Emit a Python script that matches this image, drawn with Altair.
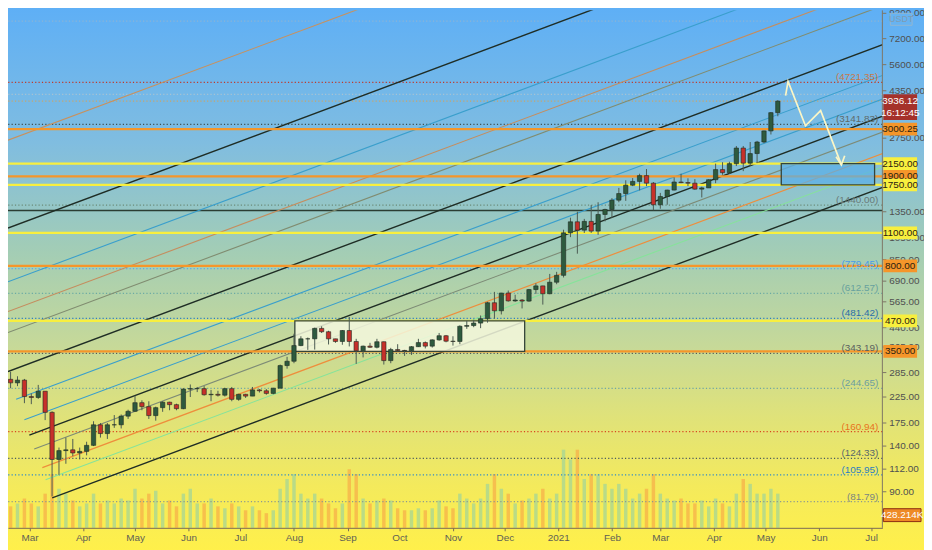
import altair as alt
import pandas as pd

# ---------------- layout ----------------
W, H = 882, 522
PAD_R, PAD_B = 42, 20
YMIN, YMAX = 63.5, 9468.0
VOL_MAX_K = 17490.0
FONT = "Liberation Sans Narrow, Liberation Sans, Arial, sans-serif"

# ---------------- candle data (4-day candles, ETH/USDT) ----------------
first_period = "2020-02-17"
first_open = 267.0
closes = [258, 265, 226, 224, 238, 194, 123, 134, 135, 131,
          133, 141, 172, 158, 172, 172, 187, 196, 213, 205,
          188, 203, 214, 209, 201, 243, 244, 244, 230, 231,
          229, 244, 220, 231, 227, 241, 239, 233, 245, 305,
          318, 370, 395, 395, 437, 423, 395, 385, 428, 385,
          352, 368, 364, 384, 320, 356, 353, 352, 366, 381,
          368, 391, 407, 386, 385, 446, 449, 460, 480, 560,
          518, 615, 570, 575, 569, 636, 659, 611, 683, 730,
          1101, 1225, 1130, 1230, 1120, 1315, 1380, 1510, 1610, 1745,
          1810, 1915, 1780, 1445, 1565, 1665, 1800, 1790, 1780, 1680,
          1700, 1840, 2030, 1970, 2150, 2500, 2160, 2370, 2650, 2950,
          3520, 3936.12]
highs = [287, 275, 268, 233, 253, 238, 196, 138, 152, 150,
         138, 146, 178, 175, 175, 189, 190, 199, 228, 218,
         216, 205, 216, 215, 211, 245, 254, 248, 250, 241,
         239, 246, 248, 232, 232, 248, 243, 243, 246, 308,
         332, 415, 405, 400, 440, 446, 427, 395, 430, 488,
         395, 370, 380, 395, 385, 362, 375, 355, 368, 395,
         385, 393, 418, 410, 405, 450, 470, 475, 495, 565,
         622, 616, 630, 605, 580, 640, 676, 660, 740, 755,
         1135, 1275, 1350, 1260, 1440, 1480, 1390, 1540, 1700, 1830,
         1870, 1950, 2040, 1800, 1620, 1670, 1880, 1950, 1865, 1850,
         1720, 1850, 2150, 2180, 2190, 2550, 2550, 2650, 2680, 2960,
         3540, 3970]
lows = [245, 250, 212, 210, 221, 180, 86, 106, 118, 127,
        123, 128, 140, 152, 150, 167, 166, 182, 195, 198,
        182, 179, 195, 198, 198, 200, 225, 236, 228, 216,
        226, 226, 216, 217, 223, 227, 235, 230, 231, 245,
        296, 312, 368, 355, 356, 418, 374, 380, 373, 367,
        310, 330, 362, 360, 308, 312, 350, 335, 338, 365,
        360, 363, 388, 382, 370, 375, 435, 442, 438, 462,
        480, 500, 566, 565, 530, 565, 610, 550, 608, 670,
        715, 1056, 900, 1100, 1100, 1080, 1230, 1270, 1480, 1500,
        1730, 1660, 1730, 1370, 1390, 1445, 1660, 1780, 1730, 1670,
        1550, 1700, 1780, 1930, 1950, 2100, 2000, 2100, 2160, 2620,
        2850, 3400]
volume_k = [726, 825, 990, 825, 726, 1155, 1815, 1320, 1155, 924,
            726, 825, 1155, 825, 924, 825, 990, 924, 1320, 990,
            1155, 1254, 825, 924, 726, 1155, 1320, 825, 825, 990,
            726, 660, 825, 726, 594, 726, 594, 495, 594, 1320,
            1650, 1815, 1155, 990, 1155, 990, 825, 660, 825, 1980,
            1815, 990, 825, 924, 990, 924, 660, 594, 594, 660,
            594, 660, 924, 726, 660, 1155, 990, 825, 990, 1485,
            1815, 1320, 1155, 825, 924, 990, 1155, 1320, 990, 1155,
            2640, 2310, 2640, 1650, 1815, 1815, 1485, 1320, 1485, 1320,
            990, 1155, 1320, 1815, 1155, 990, 924, 990, 825, 825,
            924, 726, 990, 825, 726, 1155, 1650, 1485, 1155, 1155,
            1320, 1155]

# ---------------- price axis ticks (those fully hidden by level tags left out) ----------------
y_ticks = [90, 112, 140, 175, 225, 285, 365, 440, 565, 690, 850, 1050,
           1350, 2750, 4350, 5600, 7200, 9200]

# ---------------- horizontal levels ----------------
solid_prices = [3000.25, 2150.0, 1900.0, 1750.0, 1100.0, 800.0, 470.0, 350.0]
solid_colors = ["#f5962a", "#f8ef3e", "#f5962a", "#f8ef3e",
                "#f8ef3e", "#f5962a", "#f8ef3e", "#f5962a"]
solid_texts = ["3000.25", "2150.00", "1900.00", "1750.00",
               "1100.00", "800.00", "470.00", "350.00"]
dark_level = 1366.0

dotted_prices = [8530.0, 4721.35, 4203.0, 3936.12, 3141.83, 1440.0, 779.45,
                 612.57, 481.42, 343.19, 244.65, 160.94, 124.33, 105.95, 81.79]
dotted_colors = ["#8fb4d2", "#c0392b", "#a9c3d2", "#c9a56a", "#3f4f4f", "#6b8a78",
                 "#59a7f0", "#6aaaa4", "#2d7fc0", "#4e5a5a", "#6fa5a5", "#d9451f",
                 "#4a5c60", "#2a88cc", "#8c9a8e"]
dotted_texts = ["", "(4721.35)", "", "", "(3141.83)", "(1440.00)", "(779.45)",
                "(612.57)", "(481.42)", "(343.19)", "(244.65)", "(160.94)",
                "(124.33)", "(105.95)", "(81.79)"]
dotted_text_colors = ["#000", "#c8784a", "#000", "#000", "#5e6b6b", "#6a7a78",
                      "#4a9ae8", "#67a19e", "#2a6ea8", "#5a6060", "#6d9f9f",
                      "#e8741e", "#58686a", "#2a7ec0", "#7a8680"]

# ---------------- parallel channel lines ----------------
ch_ids = ["L1", "L2", "L3", "L4", "L5", "L6", "L7", "L8", "L9", "L10", "L11", "L12", "L13"]
ch_colors = ["#c8915e", "#1f2d25", "#3a9fcc", "#c58d5e", "#808c70", "#1f2d25",
             "#3a9fcc", "#3a9fcc", "#1f2d25", "#7d8b76", "#ee8e3c", "#86e39a", "#1f2d25"]
ch_widths = [1.1, 1.4, 1.1, 1.1, 1.1, 1.4, 1.1, 1.1, 1.4, 1.1, 1.2, 1.1, 1.4]
ch_t1 = ["2020-02-17T12:00:00"] * 6 + ["2020-02-22T05:00:00", "2020-02-27T00:00:00",
                                      "2020-02-29T20:00:00", "2020-03-03T16:00:00",
                                      "2020-03-08T09:00:00", "2020-03-10T06:00:00",
                                      "2020-03-14T02:00:00"]
ch_p1 = [2697, 1153, 686, 514, 420, 288, 220.3, 180.6, 155.7, 136.0, 113.7, 101.2, 84.8]
ch_t2 = ["2021-07-10T00:00:00"] * 13
ch_p2 = [64570, 27600, 16420, 12300, 10050, 6890, 5120, 4074, 3454, 2963, 2405, 2114, 1732]

# ---------------- zones ----------------
zone_t1 = ["2020-08-01T12:00:00", "2021-05-10T00:00:00"]
zone_t2 = ["2020-12-12T12:00:00", "2021-07-03T00:00:00"]
zone_lo = [350.0, 1750.0]
zone_hi = [470.0, 2150.0]
zone_fill = ["#f4f8de", "#5aaee8"]
zone_opacity = [0.85, 0.72]

# ---------------- projected path arrow ----------------
arrow_t = ["2021-05-12T12:00:00", "2021-05-13T22:00:00", "2021-05-24T00:00:00",
           "2021-06-01T19:00:00", "2021-06-13T19:00:00"]
arrow_p = [4151, 4766, 3098, 3590, 2125]
head_t = ["2021-06-10T17:00:00", "2021-06-13T19:00:00", "2021-06-15T17:00:00"]
head_p = [2297, 2125, 2322]

last_price_text = ["3936.12", "16:12:45"]
last_volume_k = 428.214
last_volume_text = "428.214K"

# ================= build tables =================
starts = pd.date_range(first_period, periods=len(closes), freq="4D")
opens = [first_open] + closes[:-1]
cd = pd.DataFrame({
    "t": starts + pd.Timedelta(hours=48),
    "xs": starts + pd.Timedelta(hours=18),
    "xe": starts + pd.Timedelta(hours=78),
    "vs": starts + pd.Timedelta(hours=24),
    "ve": starts + pd.Timedelta(hours=72),
    "o": opens, "c": closes, "h": highs, "l": lows, "v": volume_k,
})
up = cd["c"] >= cd["o"]
cd["bcol"] = ["#2e5a3e" if u else "#c7302a" for u in up]
cd["vcol"] = ["#9fd49a" if u else "#f6ad48" for u in up]

ch = pd.DataFrame({"id": ch_ids, "col": ch_colors, "w": ch_widths,
                   "t1": ch_t1, "p1": ch_p1, "t2": ch_t2, "p2": ch_p2})
zones = pd.DataFrame({"t1": zone_t1, "t2": zone_t2, "lo": zone_lo, "hi": zone_hi,
                      "f": zone_fill, "op": zone_opacity})
arr = pd.DataFrame({
    "t": arrow_t + head_t,
    "p": arrow_p + head_p,
    "g": ["path"] * len(arrow_t) + ["head"] * len(head_t),
    "k": list(range(len(arrow_t))) + list(range(len(head_t))),
})
dots = pd.DataFrame({"p": dotted_prices, "c": dotted_colors,
                     "s": dotted_texts, "tc": dotted_text_colors})
dot_lbl = dots[dots["s"] != ""]
solids = pd.DataFrame({"p": solid_prices, "c": solid_colors, "s": solid_texts})
ticks = pd.DataFrame({"v": y_ticks})
one = pd.DataFrame({"a": [0]})

# ================= scales / encodings =================
xsc = alt.Scale(domain=[alt.DateTime(year=2020, month=2, date=17, hours=12),
                        alt.DateTime(year=2021, month=7, date=7, hours=12)], nice=False)
month_vals = ([alt.DateTime(year=2020, month=m, date=1) for m in range(3, 13)] +
              [alt.DateTime(year=2021, month=m, date=1) for m in range(1, 8)])
xaxis = alt.Axis(values=month_vals, title=None, grid=False, tickSize=3, labelPadding=2,
                 labelExpr="month(datum.value) == 0 ? timeFormat(datum.value, '%Y') : timeFormat(datum.value, '%b')",
                 domainColor="#7a6a55", tickColor="#7a6a55", labelColor="#5f5f55",
                 labelFont=FONT, labelFontSize=10, labelFlush=False, labelOverlap=False,
                 zindex=1)
ysc = alt.Scale(type="log", domain=[YMIN, YMAX], nice=False, zero=False)
vsc = alt.Scale(domain=[0, VOL_MAX_K], nice=False, zero=True)


def X(f):
    return alt.X(f, type="temporal", scale=xsc, axis=xaxis)


def Y(f):
    return alt.Y(f, type="quantitative", scale=ysc, axis=None)


grad = alt.Gradient(gradient="linear", x1=0, x2=0, y1=0, y2=1, stops=[
    alt.GradientStop(color="#5eaff6", offset=0.0),
    alt.GradientStop(color="#80bde0", offset=0.25),
    alt.GradientStop(color="#a3cdb5", offset=0.45),
    alt.GradientStop(color="#c6d999", offset=0.62),
    alt.GradientStop(color="#dfe27a", offset=0.75),
    alt.GradientStop(color="#f4ea5c", offset=0.88),
    alt.GradientStop(color="#fff04a", offset=1.0),
])

bg = alt.Chart(one).mark_rect(fill=grad).encode(
    x=alt.value(-4), x2=alt.value(W + PAD_R + 4), y=alt.value(-4), y2=alt.value(H + PAD_B + 4))

vol = alt.Chart(cd).mark_bar(opacity=0.7).encode(
    x=X("vs"), x2="ve",
    y=alt.Y("v:Q", scale=vsc, axis=None, stack=None),
    y2=alt.value(H),
    color=alt.Color("vcol:N", scale=None))

dot_rules = alt.Chart(dots).mark_rule(strokeDash=[1.2, 2.2], strokeWidth=1.3).encode(
    y=Y("p"), color=alt.Color("c:N", scale=None))

dark_rule = alt.Chart(pd.DataFrame({"p": [dark_level]})).mark_rule(
    strokeWidth=1.5, color="#2b3d33").encode(y=Y("p"))

channels = alt.Chart(ch).mark_rule(clip=True).encode(
    x=X("t1"), x2="t2", y=Y("p1"), y2="p2",
    color=alt.Color("col:N", scale=None),
    strokeWidth=alt.StrokeWidth("w:Q", scale=None),
    detail="id:N")

solid_rules = alt.Chart(solids).mark_rule(strokeWidth=2.2).encode(
    y=Y("p"), color=alt.Color("c:N", scale=None))

zone_rects = alt.Chart(zones).mark_rect(stroke="#34443a", strokeWidth=1.3).encode(
    x=X("t1"), x2="t2", y=Y("lo"), y2="hi",
    fill=alt.Fill("f:N", scale=None),
    fillOpacity=alt.FillOpacity("op:Q", scale=None))

wicks = alt.Chart(cd).mark_rule(color="#4c5b52", strokeWidth=1).encode(
    x=X("t"), y=Y("l"), y2="h")

bodies = alt.Chart(cd).mark_bar(stroke="#1f2a22", strokeWidth=0.6).encode(
    x=X("xs"), x2="xe", y=Y("o"), y2="c",
    color=alt.Color("bcol:N", scale=None))

arrow = alt.Chart(arr).mark_line(color="#fbf6c6", strokeWidth=1.7, clip=True).encode(
    x=X("t"), y=Y("p"), detail="g:N", order="k:Q")

dot_texts = alt.Chart(dot_lbl).mark_text(
    align="right", baseline="middle", dy=-5, fontSize=10, font=FONT).encode(
    x=alt.value(W - 4), y=Y("p"), text="s:N", color=alt.Color("tc:N", scale=None))

# right price axis drawn by hand
r_domain = alt.Chart(one).mark_rule(color="#7d7565", strokeWidth=1).encode(
    x=alt.value(W), y=alt.value(0), y2=alt.value(H))
r_ticks = alt.Chart(ticks).mark_rule(color="#7d7565").encode(
    x=alt.value(W), x2=alt.value(W + 4), y=Y("v"))
r_labels = alt.Chart(ticks).mark_text(
    align="left", baseline="middle", fontSize=10, font=FONT, color="#4f5050").encode(
    x=alt.value(W + 7), y=Y("v"), text=alt.Text("v:Q", format=".2f"))

BOX = "M-1,-0.382L1,-0.382L1,0.382L-1,0.382Z"
lvl_boxes = alt.Chart(solids).mark_point(shape=BOX, size=1156, filled=True, opacity=1).encode(
    x=alt.value(W + 18), y=Y("p"), color=alt.Color("c:N", scale=None))
lvl_texts = alt.Chart(solids).mark_text(
    align="center", baseline="middle", fontSize=10, font=FONT, color="#2b2210").encode(
    x=alt.value(W + 18), y=Y("p"), text="s:N")

last_df = pd.DataFrame({"p": [dotted_prices[3]], "a": [last_price_text[0]], "b": [last_price_text[1]]})
last_box = alt.Chart(last_df).mark_point(
    shape="M-1,-0.41L1,-0.41L1,1.12L-1,1.12Z", size=1156, filled=True, opacity=1,
    color="#a5312a").encode(x=alt.value(W + 18), y=Y("p"))
last_t1 = alt.Chart(last_df).mark_text(
    align="center", baseline="middle", fontSize=10, font=FONT, color="#ffffff").encode(
    x=alt.value(W + 18), y=Y("p"), text="a:N")
last_t2 = alt.Chart(last_df).mark_text(
    align="center", baseline="middle", dy=12, fontSize=10, font=FONT, color="#ffffff").encode(
    x=alt.value(W + 18), y=Y("p"), text="b:N")

vol_df = pd.DataFrame({"v": [last_volume_k], "s": [last_volume_text]})
vol_box = alt.Chart(vol_df).mark_point(
    shape="M-1,-0.342L1,-0.342L1,0.342L-1,0.342Z", size=1444, filled=True, opacity=1,
    color="#ee8a26", stroke="#8a2a10", strokeWidth=1).encode(
    x=alt.value(W + 20), y=alt.Y("v:Q", scale=vsc, axis=None))
vol_txt = alt.Chart(vol_df).mark_text(
    align="center", baseline="middle", fontSize=10, font=FONT, color="#ffffff").encode(
    x=alt.value(W + 20), y=alt.Y("v:Q", scale=vsc, axis=None), text="s:N")

usdt_box = alt.Chart(one).mark_point(
    shape="M-1,-0.55L1,-0.55L1,0.55L-1,0.55Z", size=484, filled=True, opacity=1,
    fill="#66b3f2", stroke="#93b6cf", strokeWidth=1).encode(
    x=alt.value(W + 19), y=alt.value(9))
usdt_txt = alt.Chart(one).mark_text(
    align="center", baseline="middle", fontSize=9, font=FONT, color="#7f9cb2").encode(
    x=alt.value(W + 19), y=alt.value(9), text=alt.value("USDT"))

chart = alt.layer(
    bg, vol, dot_rules, dark_rule, channels, solid_rules, zone_rects,
    wicks, bodies, arrow, dot_texts,
    r_domain, r_ticks, r_labels, lvl_boxes, lvl_texts,
    last_box, last_t1, last_t2, vol_box, vol_txt, usdt_box, usdt_txt,
).resolve_scale(y="independent").properties(
    width=W, height=H,
    padding={"left": 0, "top": 0, "right": PAD_R, "bottom": PAD_B},
    autosize=alt.AutoSizeParams(type="none"),
).configure_view(stroke=None).configure(background="#5eaff6")

chart.save("out.html", embed_options={"renderer": "svg", "actions": False})
